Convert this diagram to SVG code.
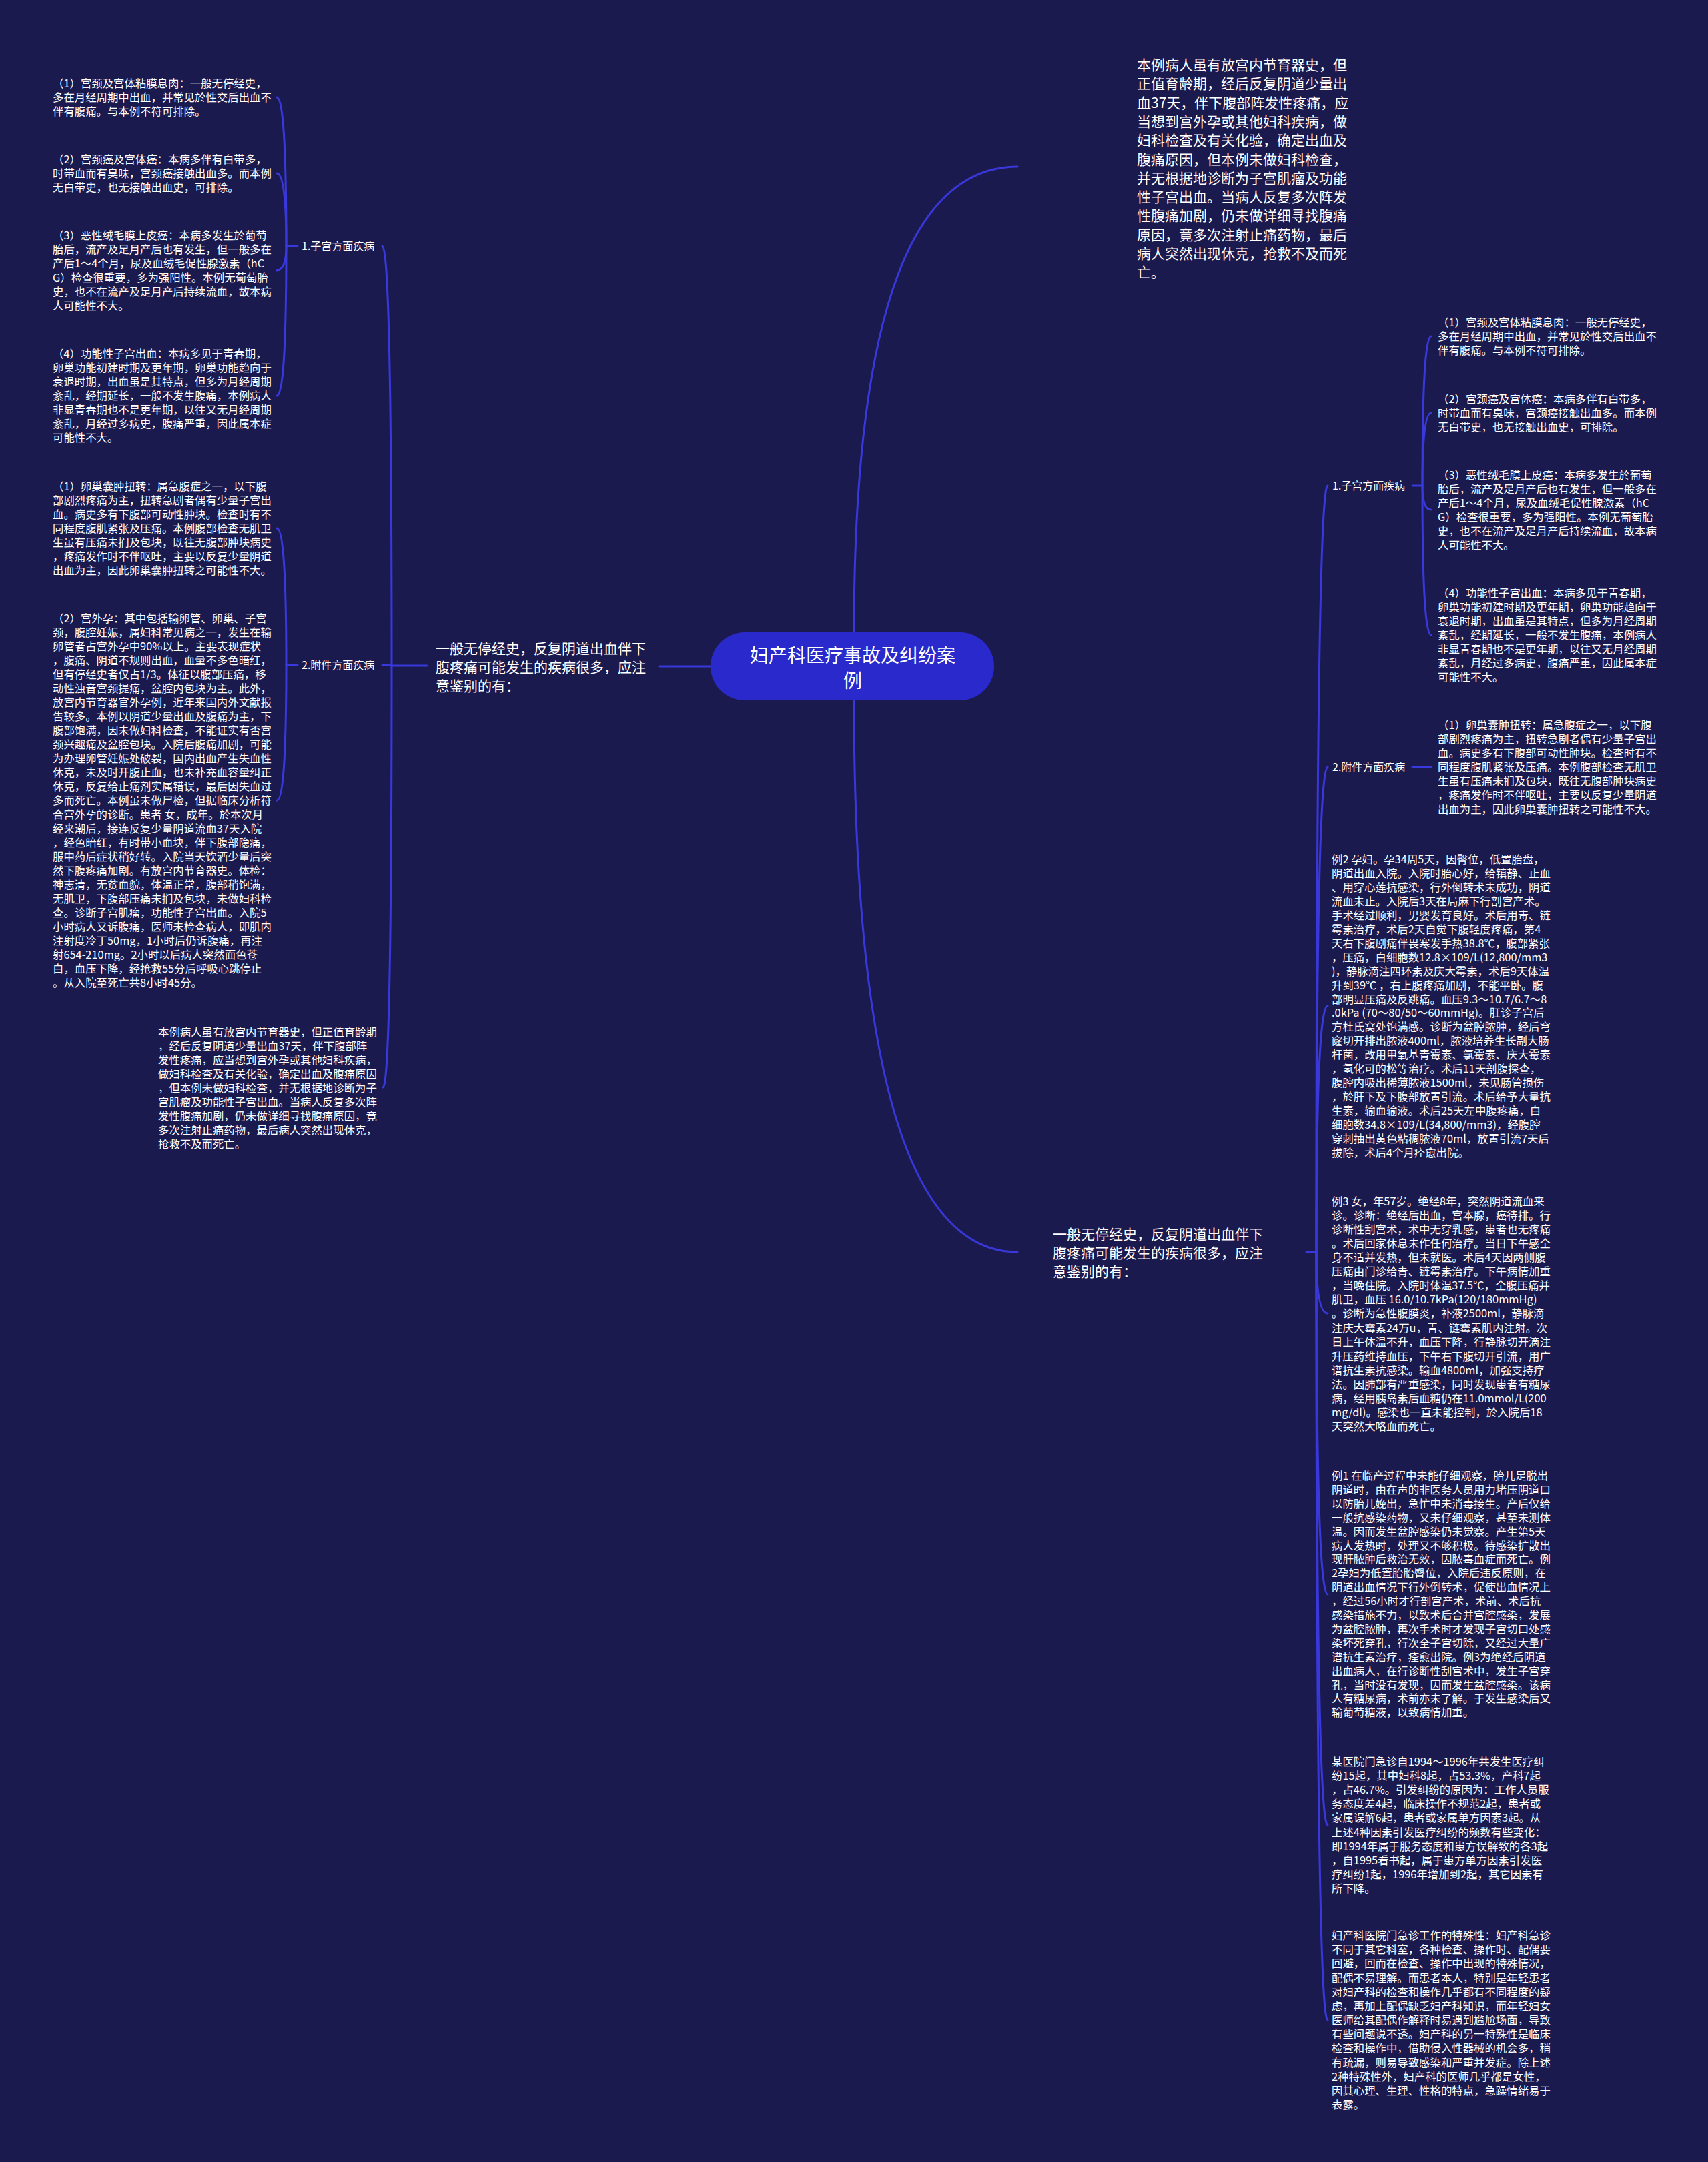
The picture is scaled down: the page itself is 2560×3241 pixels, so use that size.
<svg xmlns="http://www.w3.org/2000/svg" width="2560" height="3241" viewBox="0 0 2560 3241">
<style>
.bg{fill:#1b1a4f}
.ln{fill:none;stroke:#3838dc;stroke-width:3;stroke-linecap:round}
.s{font-family:"Noto Sans CJK SC","Noto Sans",sans-serif;font-size:16.4px;fill:#ffffff}
.lb{font-family:"Noto Sans CJK SC","Noto Sans",sans-serif;font-size:16px;fill:#ffffff}
.m{font-family:"Noto Sans CJK SC","Noto Sans",sans-serif;font-size:21px;fill:#ffffff}
.r{font-family:"Noto Sans CJK SC","Noto Sans",sans-serif;font-size:28px;fill:#ffffff;text-anchor:middle}
.pill{fill:#2a2acc}
</style>
<rect class="bg" x="0" y="0" width="2560" height="3241"/>
<g id="connectors">
<path class="ln" d="M1065 999 L988 999"/>
<path class="ln" d="M640 998 L587 998"/>
<path class="ln" d="M587 998 Q587 369 573 369"/>
<path class="ln" d="M587 998 Q587 997 573 997"/>
<path class="ln" d="M587 998 Q587 1630 574 1630"/>
<path class="ln" d="M446 369 L429 369"/>
<path class="ln" d="M429 369 Q429 146 415 146"/>
<path class="ln" d="M429 369 Q429 260 415 260"/>
<path class="ln" d="M429 369 Q429 405 415 405"/>
<path class="ln" d="M429 369 Q429 593 415 593"/>
<path class="ln" d="M446 997 L429 997"/>
<path class="ln" d="M429 997 Q429 792 415 792"/>
<path class="ln" d="M429 997 Q429 1200 415 1200"/>
<path class="ln" d="M1280 948 Q1280 250 1525 250"/>
<path class="ln" d="M1280 1050 Q1280 1877 1525 1877"/>
<path class="ln" d="M1958 1877 L1973 1877"/>
<path class="ln" d="M1973 1877 Q1973 728 1990 728"/>
<path class="ln" d="M1973 1877 Q1973 1150 1990 1150"/>
<path class="ln" d="M1973 1877 Q1973 1508 1990 1508"/>
<path class="ln" d="M1973 1877 Q1973 1969 1990 1969"/>
<path class="ln" d="M1973 1877 Q1973 2390 1990 2390"/>
<path class="ln" d="M1973 1877 Q1973 2736 1990 2736"/>
<path class="ln" d="M1973 1877 Q1973 3028 1990 3028"/>
<path class="ln" d="M2117 728 L2132 728"/>
<path class="ln" d="M2132 728 Q2132 504 2145 504"/>
<path class="ln" d="M2132 728 Q2132 619 2145 619"/>
<path class="ln" d="M2132 728 Q2132 764 2145 764"/>
<path class="ln" d="M2132 728 Q2132 952 2145 952"/>
<path class="ln" d="M2117 1150 L2145 1150"/>
</g>
<g id="root">
<rect class="pill" x="1065" y="948" width="425" height="102" rx="51"/>
<text class="r" x="1278" y="993">妇产科医疗事故及纠纷案</text>
<text class="r" x="1278" y="1031">例</text>
</g>
<g id="left-main">
<text class="m" x="653" y="980"><tspan x="653">一般无停经史，反复阴道出血伴下</tspan><tspan x="653" dy="28">腹疼痛可能发生的疾病很多，应注</tspan><tspan x="653" dy="28">意鉴别的有：</tspan></text>
</g>
<g id="left-uterus">
<text class="lb" x="452" y="375">1.子宫方面疾病</text>
</g>
<g id="left-uterus-1">
<text class="s" x="79" y="131"><tspan x="79">（1）宫颈及宫体粘膜息肉：一般无停经史，</tspan><tspan x="79" dy="21">多在月经周期中出血，并常见於性交后出血不</tspan><tspan x="79" dy="21">伴有腹痛。与本例不符可排除。</tspan></text>
</g>
<g id="left-uterus-2">
<text class="s" x="79" y="245"><tspan x="79">（2）宫颈癌及宫体癌：本病多伴有白带多，</tspan><tspan x="79" dy="21">时带血而有臭味，宫颈癌接触出血多。而本例</tspan><tspan x="79" dy="21">无白带史，也无接触出血史，可排除。</tspan></text>
</g>
<g id="left-uterus-3">
<text class="s" x="79" y="359"><tspan x="79">（3）恶性绒毛膜上皮癌：本病多发生於葡萄</tspan><tspan x="79" dy="21">胎后，流产及足月产后也有发生，但一般多在</tspan><tspan x="79" dy="21">产后1～4个月，尿及血绒毛促性腺激素（hC</tspan><tspan x="79" dy="21">G）检查很重要，多为强阳性。本例无葡萄胎</tspan><tspan x="79" dy="21">史，也不在流产及足月产后持续流血，故本病</tspan><tspan x="79" dy="21">人可能性不大。</tspan></text>
</g>
<g id="left-uterus-4">
<text class="s" x="79" y="536"><tspan x="79">（4）功能性子宫出血：本病多见于青春期，</tspan><tspan x="79" dy="21">卵巢功能初建时期及更年期，卵巢功能趋向于</tspan><tspan x="79" dy="21">衰退时期，出血虽是其特点，但多为月经周期</tspan><tspan x="79" dy="21">紊乱，经期延长，一般不发生腹痛，本例病人</tspan><tspan x="79" dy="21">非显青春期也不是更年期，以往又无月经周期</tspan><tspan x="79" dy="21">紊乱，月经过多病史，腹痛严重，因此属本症</tspan><tspan x="79" dy="21">可能性不大。</tspan></text>
</g>
<g id="left-adnexa">
<text class="lb" x="452" y="1003">2.附件方面疾病</text>
</g>
<g id="left-adnexa-1">
<text class="s" x="79" y="735"><tspan x="79">（1）卵巢囊肿扭转：属急腹症之一，以下腹</tspan><tspan x="79" dy="21">部剧烈疼痛为主，扭转急剧者偶有少量子宫出</tspan><tspan x="79" dy="21">血。病史多有下腹部可动性肿块。检查时有不</tspan><tspan x="79" dy="21">同程度腹肌紧张及压痛。本例腹部检查无肌卫</tspan><tspan x="79" dy="21">生虽有压痛未扪及包块，既往无腹部肿块病史</tspan><tspan x="79" dy="21">，疼痛发作时不伴呕吐，主要以反复少量阴道</tspan><tspan x="79" dy="21">出血为主，因此卵巢囊肿扭转之可能性不大。</tspan></text>
</g>
<g id="left-adnexa-2">
<text class="s" x="79" y="933"><tspan x="79">（2）宫外孕：其中包括输卵管、卵巢、子宫</tspan><tspan x="79" dy="21">颈，腹腔妊娠，属妇科常见病之一，发生在输</tspan><tspan x="79" dy="21">卵管者占宫外孕中90%以上。主要表现症状</tspan><tspan x="79" dy="21">，腹痛、阴道不规则出血，血量不多色暗红，</tspan><tspan x="79" dy="21">但有停经史者仅占1/3。体征以腹部压痛，移</tspan><tspan x="79" dy="21">动性浊音宫颈提痛，盆腔内包块为主。此外，</tspan><tspan x="79" dy="21">放宫内节育器官外孕例，近年来国内外文献报</tspan><tspan x="79" dy="21">告较多。本例以阴道少量出血及腹痛为主，下</tspan><tspan x="79" dy="21">腹部饱满，因未做妇科检查，不能证实有否宫</tspan><tspan x="79" dy="21">颈兴趣痛及盆腔包块。入院后腹痛加剧，可能</tspan><tspan x="79" dy="21">为办理卵管妊娠处破裂，国内出血产生失血性</tspan><tspan x="79" dy="21">休克，未及时开腹止血，也未补充血容量纠正</tspan><tspan x="79" dy="21">休克，反复给止痛剂实属错误，最后因失血过</tspan><tspan x="79" dy="21">多而死亡。本例虽未做尸检，但据临床分析符</tspan><tspan x="79" dy="21">合宫外孕的诊断。患者 女，成年。於本次月</tspan><tspan x="79" dy="21">经来潮后，接连反复少量阴道流血37天入院</tspan><tspan x="79" dy="21">，经色暗红，有时带小血块，伴下腹部隐痛，</tspan><tspan x="79" dy="21">服中药后症状稍好转。入院当天饮酒少量后突</tspan><tspan x="79" dy="21">然下腹疼痛加剧。有放宫内节育器史。体检：</tspan><tspan x="79" dy="21">神志清，无贫血貌，体温正常，腹部稍饱满，</tspan><tspan x="79" dy="21">无肌卫，下腹部压痛未扪及包块，未做妇科检</tspan><tspan x="79" dy="21">查。诊断子宫肌瘤，功能性子宫出血。入院5</tspan><tspan x="79" dy="21">小时病人又诉腹痛，医师未检查病人，即肌内</tspan><tspan x="79" dy="21">注射度冷丁50mg，1小时后仍诉腹痛，再注</tspan><tspan x="79" dy="21">射654-210mg。2小时以后病人突然面色苍</tspan><tspan x="79" dy="21">白，血压下降，经抢救55分后呼吸心跳停止</tspan><tspan x="79" dy="21">。从入院至死亡共8小时45分。</tspan></text>
</g>
<g id="left-summary">
<text class="s" x="237" y="1553"><tspan x="237">本例病人虽有放宫内节育器史，但正值育龄期</tspan><tspan x="237" dy="21">，经后反复阴道少量出血37天，伴下腹部阵</tspan><tspan x="237" dy="21">发性疼痛，应当想到宫外孕或其他妇科疾病，</tspan><tspan x="237" dy="21">做妇科检查及有关化验，确定出血及腹痛原因</tspan><tspan x="237" dy="21">，但本例未做妇科检查，并无根据地诊断为子</tspan><tspan x="237" dy="21">宫肌瘤及功能性子宫出血。当病人反复多次阵</tspan><tspan x="237" dy="21">发性腹痛加剧，仍未做详细寻找腹痛原因，竟</tspan><tspan x="237" dy="21">多次注射止痛药物，最后病人突然出现休克，</tspan><tspan x="237" dy="21">抢救不及而死亡。</tspan></text>
</g>
<g id="right-top">
<text class="m" x="1704" y="105"><tspan x="1704">本例病人虽有放宫内节育器史，但</tspan><tspan x="1704" dy="28.3">正值育龄期，经后反复阴道少量出</tspan><tspan x="1704" dy="28.3">血37天，伴下腹部阵发性疼痛，应</tspan><tspan x="1704" dy="28.3">当想到宫外孕或其他妇科疾病，做</tspan><tspan x="1704" dy="28.3">妇科检查及有关化验，确定出血及</tspan><tspan x="1704" dy="28.3">腹痛原因，但本例未做妇科检查，</tspan><tspan x="1704" dy="28.3">并无根据地诊断为子宫肌瘤及功能</tspan><tspan x="1704" dy="28.3">性子宫出血。当病人反复多次阵发</tspan><tspan x="1704" dy="28.3">性腹痛加剧，仍未做详细寻找腹痛</tspan><tspan x="1704" dy="28.3">原因，竟多次注射止痛药物，最后</tspan><tspan x="1704" dy="28.3">病人突然出现休克，抢救不及而死</tspan><tspan x="1704" dy="28.3">亡。</tspan></text>
</g>
<g id="right-main">
<text class="m" x="1578" y="1858"><tspan x="1578">一般无停经史，反复阴道出血伴下</tspan><tspan x="1578" dy="28">腹疼痛可能发生的疾病很多，应注</tspan><tspan x="1578" dy="28">意鉴别的有：</tspan></text>
</g>
<g id="right-uterus">
<text class="lb" x="1997" y="734">1.子宫方面疾病</text>
</g>
<g id="right-uterus-1">
<text class="s" x="2155" y="489"><tspan x="2155">（1）宫颈及宫体粘膜息肉：一般无停经史，</tspan><tspan x="2155" dy="21">多在月经周期中出血，并常见於性交后出血不</tspan><tspan x="2155" dy="21">伴有腹痛。与本例不符可排除。</tspan></text>
</g>
<g id="right-uterus-2">
<text class="s" x="2155" y="604"><tspan x="2155">（2）宫颈癌及宫体癌：本病多伴有白带多，</tspan><tspan x="2155" dy="21">时带血而有臭味，宫颈癌接触出血多。而本例</tspan><tspan x="2155" dy="21">无白带史，也无接触出血史，可排除。</tspan></text>
</g>
<g id="right-uterus-3">
<text class="s" x="2155" y="718"><tspan x="2155">（3）恶性绒毛膜上皮癌：本病多发生於葡萄</tspan><tspan x="2155" dy="21">胎后，流产及足月产后也有发生，但一般多在</tspan><tspan x="2155" dy="21">产后1～4个月，尿及血绒毛促性腺激素（hC</tspan><tspan x="2155" dy="21">G）检查很重要，多为强阳性。本例无葡萄胎</tspan><tspan x="2155" dy="21">史，也不在流产及足月产后持续流血，故本病</tspan><tspan x="2155" dy="21">人可能性不大。</tspan></text>
</g>
<g id="right-uterus-4">
<text class="s" x="2155" y="895"><tspan x="2155">（4）功能性子宫出血：本病多见于青春期，</tspan><tspan x="2155" dy="21">卵巢功能初建时期及更年期，卵巢功能趋向于</tspan><tspan x="2155" dy="21">衰退时期，出血虽是其特点，但多为月经周期</tspan><tspan x="2155" dy="21">紊乱，经期延长，一般不发生腹痛，本例病人</tspan><tspan x="2155" dy="21">非显青春期也不是更年期，以往又无月经周期</tspan><tspan x="2155" dy="21">紊乱，月经过多病史，腹痛严重，因此属本症</tspan><tspan x="2155" dy="21">可能性不大。</tspan></text>
</g>
<g id="right-adnexa">
<text class="lb" x="1997" y="1156">2.附件方面疾病</text>
</g>
<g id="right-adnexa-1">
<text class="s" x="2155" y="1093"><tspan x="2155">（1）卵巢囊肿扭转：属急腹症之一，以下腹</tspan><tspan x="2155" dy="21">部剧烈疼痛为主，扭转急剧者偶有少量子宫出</tspan><tspan x="2155" dy="21">血。病史多有下腹部可动性肿块。检查时有不</tspan><tspan x="2155" dy="21">同程度腹肌紧张及压痛。本例腹部检查无肌卫</tspan><tspan x="2155" dy="21">生虽有压痛未扪及包块，既往无腹部肿块病史</tspan><tspan x="2155" dy="21">，疼痛发作时不伴呕吐，主要以反复少量阴道</tspan><tspan x="2155" dy="21">出血为主，因此卵巢囊肿扭转之可能性不大。</tspan></text>
</g>
<g id="case2">
<text class="s" x="1996" y="1294"><tspan x="1996">例2 孕妇。孕34周5天，因臀位，低置胎盘，</tspan><tspan x="1996" dy="20.95">阴道出血入院。入院时胎心好，给镇静、止血</tspan><tspan x="1996" dy="20.95">、用穿心莲抗感染，行外倒转术未成功，阴道</tspan><tspan x="1996" dy="20.95">流血未止。入院后3天在局麻下行剖宫产术。</tspan><tspan x="1996" dy="20.95">手术经过顺利，男婴发育良好。术后用毒、链</tspan><tspan x="1996" dy="20.95">霉素治疗，术后2天自觉下腹轻度疼痛，第4</tspan><tspan x="1996" dy="20.95">天右下腹剧痛伴畏寒发手热38.8℃，腹部紧张</tspan><tspan x="1996" dy="20.95">，压痛，白细胞数12.8×109/L(12,800/mm3</tspan><tspan x="1996" dy="20.95">)，静脉滴注四环素及庆大霉素，术后9天体温</tspan><tspan x="1996" dy="20.95">升到39℃ ，右上腹疼痛加剧，不能平卧。腹</tspan><tspan x="1996" dy="20.95">部明显压痛及反跳痛。血压9.3～10.7/6.7～8</tspan><tspan x="1996" dy="20.95">.0kPa (70～80/50～60mmHg)。肛诊子宫后</tspan><tspan x="1996" dy="20.95">方杜氏窝处饱满感。诊断为盆腔脓肿，经后穹</tspan><tspan x="1996" dy="20.95">窿切开排出脓液400ml，脓液培养生长副大肠</tspan><tspan x="1996" dy="20.95">杆菌，改用甲氧基青霉素、氯霉素、庆大霉素</tspan><tspan x="1996" dy="20.95">，氢化可的松等治疗。术后11天剖腹探查，</tspan><tspan x="1996" dy="20.95">腹腔内吸出稀薄脓液1500ml，未见肠管损伤</tspan><tspan x="1996" dy="20.95">，於肝下及下腹部放置引流。术后给予大量抗</tspan><tspan x="1996" dy="20.95">生素，输血输液。术后25天左中腹疼痛，白</tspan><tspan x="1996" dy="20.95">细胞数34.8×109/L(34,800/mm3)，经腹腔</tspan><tspan x="1996" dy="20.95">穿刺抽出黄色粘稠脓液70ml，放置引流7天后</tspan><tspan x="1996" dy="20.95">拔除，术后4个月痊愈出院。</tspan></text>
</g>
<g id="case3">
<text class="s" x="1996" y="1807"><tspan x="1996">例3 女，年57岁。绝经8年，突然阴道流血来</tspan><tspan x="1996" dy="21.06">诊。诊断：绝经后出血，宫本腺，癌待排。行</tspan><tspan x="1996" dy="21.06">诊断性刮宫术，术中无穿乳感，患者也无疼痛</tspan><tspan x="1996" dy="21.06">。术后回家休息未作任何治疗。当日下午感全</tspan><tspan x="1996" dy="21.06">身不适并发热，但未就医。术后4天因两侧腹</tspan><tspan x="1996" dy="21.06">压痛由门诊给青、链霉素治疗。下午病情加重</tspan><tspan x="1996" dy="21.06">，当晚住院。入院时体温37.5℃，全腹压痛并</tspan><tspan x="1996" dy="21.06">肌卫，血压 16.0/10.7kPa(120/180mmHg)</tspan><tspan x="1996" dy="21.06">。诊断为急性腹膜炎，补液2500ml，静脉滴</tspan><tspan x="1996" dy="21.06">注庆大霉素24万u，青、链霉素肌内注射。次</tspan><tspan x="1996" dy="21.06">日上午体温不升，血压下降，行静脉切开滴注</tspan><tspan x="1996" dy="21.06">升压药维持血压，下午右下腹切开引流，用广</tspan><tspan x="1996" dy="21.06">谱抗生素抗感染。输血4800ml，加强支持疗</tspan><tspan x="1996" dy="21.06">法。因肺部有严重感染，同时发现患者有糖尿</tspan><tspan x="1996" dy="21.06">病，经用胰岛素后血糖仍在11.0mmol/L(200</tspan><tspan x="1996" dy="21.06">mg/dl)。感染也一直未能控制，於入院后18</tspan><tspan x="1996" dy="21.06">天突然大咯血而死亡。</tspan></text>
</g>
<g id="case1">
<text class="s" x="1996" y="2218"><tspan x="1996">例1 在临产过程中未能仔细观察，胎儿足脱出</tspan><tspan x="1996" dy="20.9">阴道时，由在声的非医务人员用力堵压阴道口</tspan><tspan x="1996" dy="20.9">以防胎儿娩出，急忙中未消毒接生。产后仅给</tspan><tspan x="1996" dy="20.9">一般抗感染药物，又未仔细观察，甚至未测体</tspan><tspan x="1996" dy="20.9">温。因而发生盆腔感染仍未觉察。产生第5天</tspan><tspan x="1996" dy="20.9">病人发热时，处理又不够积极。待感染扩散出</tspan><tspan x="1996" dy="20.9">现肝脓肿后救治无效，因脓毒血症而死亡。例</tspan><tspan x="1996" dy="20.9">2孕妇为低置胎胎臀位，入院后违反原则，在</tspan><tspan x="1996" dy="20.9">阴道出血情况下行外倒转术，促使出血情况上</tspan><tspan x="1996" dy="20.9">，经过56小时才行剖宫产术，术前、术后抗</tspan><tspan x="1996" dy="20.9">感染措施不力，以致术后合并宫腔感染，发展</tspan><tspan x="1996" dy="20.9">为盆腔脓肿，再次手术时才发现子宫切口处感</tspan><tspan x="1996" dy="20.9">染坏死穿孔，行次全子宫切除，又经过大量广</tspan><tspan x="1996" dy="20.9">谱抗生素治疗，痊愈出院。例3为绝经后阴道</tspan><tspan x="1996" dy="20.9">出血病人，在行诊断性刮宫术中，发生子宫穿</tspan><tspan x="1996" dy="20.9">孔，当时没有发现，因而发生盆腔感染。该病</tspan><tspan x="1996" dy="20.9">人有糖尿病，术前亦未了解。于发生感染后又</tspan><tspan x="1996" dy="20.9">输葡萄糖液，以致病情加重。</tspan></text>
</g>
<g id="hospital-stats">
<text class="s" x="1996" y="2647"><tspan x="1996">某医院门急诊自1994～1996年共发生医疗纠</tspan><tspan x="1996" dy="21.1">纷15起，其中妇科8起，占53.3%，产科7起</tspan><tspan x="1996" dy="21.1">，占46.7%。引发纠纷的原因为：工作人员服</tspan><tspan x="1996" dy="21.1">务态度差4起，临床操作不规范2起，患者或</tspan><tspan x="1996" dy="21.1">家属误解6起，患者或家属单方因素3起。从</tspan><tspan x="1996" dy="21.1">上述4种因素引发医疗纠纷的频数有些变化：</tspan><tspan x="1996" dy="21.1">即1994年属于服务态度和患方误解致的各3起</tspan><tspan x="1996" dy="21.1">，自1995看书起，属于患方单方因素引发医</tspan><tspan x="1996" dy="21.1">疗纠纷1起，1996年增加到2起，其它因素有</tspan><tspan x="1996" dy="21.1">所下降。</tspan></text>
</g>
<g id="special-nature">
<text class="s" x="1996" y="2907"><tspan x="1996">妇产科医院门急诊工作的特殊性：妇产科急诊</tspan><tspan x="1996" dy="21.17">不同于其它科室，各种检查、操作时、配偶要</tspan><tspan x="1996" dy="21.17">回避，回而在检查、操作中出现的特殊情况，</tspan><tspan x="1996" dy="21.17">配偶不易理解。而患者本人，特别是年轻患者</tspan><tspan x="1996" dy="21.17">对妇产科的检查和操作几乎都有不同程度的疑</tspan><tspan x="1996" dy="21.17">虑，再加上配偶缺乏妇产科知识，而年轻妇女</tspan><tspan x="1996" dy="21.17">医师给其配偶作解释时易遇到尴尬场面，导致</tspan><tspan x="1996" dy="21.17">有些问题说不透。妇产科的另一特殊性是临床</tspan><tspan x="1996" dy="21.17">检查和操作中，借助侵入性器械的机会多，稍</tspan><tspan x="1996" dy="21.17">有疏漏，则易导致感染和严重并发症。除上述</tspan><tspan x="1996" dy="21.17">2种特殊性外，妇产科的医师几乎都是女性，</tspan><tspan x="1996" dy="21.17">因其心理、生理、性格的特点，急躁情绪易于</tspan><tspan x="1996" dy="21.17">表露。</tspan></text>
</g>
</svg>
